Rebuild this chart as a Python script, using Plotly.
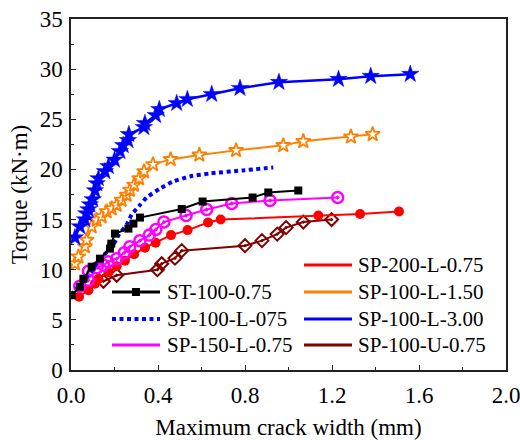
import plotly.graph_objects as go

# ---- data ----
x_st = [0.003, 0.041, 0.057, 0.095, 0.133, 0.179, 0.185, 0.202, 0.264, 0.287, 0.317, 0.509, 0.605, 0.835, 0.907, 1.045]
y_st = [7.45, 8.3, 9.1, 10.3, 11.1, 12.1, 12.6, 13.6, 14.1, 14.6, 15.2, 16.05, 16.8, 17.2, 17.7, 17.9]

x_sp100_075 = [0.0, 0.05, 0.10, 0.13, 0.168, 0.19, 0.22, 0.256, 0.279, 0.317, 0.348, 0.41, 0.47, 0.547, 0.639, 0.79, 0.93]
y_sp100_075 = [7.45, 8.7, 10.0, 11.1, 11.8, 12.3, 13.5, 14.5, 15.5, 16.45, 17.2, 18.1, 18.8, 19.3, 19.6, 19.9, 20.2]

x_sp150 = [0.04, 0.08, 0.08, 0.12, 0.15, 0.17, 0.21, 0.245, 0.27, 0.317, 0.36, 0.39, 0.427, 0.529, 0.624, 0.739, 0.915, 1.226]
y_sp150 = [8.35, 8.95, 9.85, 10.2, 10.45, 10.8, 11.1, 11.7, 12.3, 12.9, 13.45, 14.0, 14.75, 15.4, 16.0, 16.6, 16.9, 17.2]

x_sp200 = [0.037, 0.08, 0.11, 0.126, 0.172, 0.21, 0.248, 0.29, 0.34, 0.389, 0.46, 0.536, 0.63, 0.688, 1.137, 1.329, 1.508]
y_sp200 = [7.3, 7.95, 8.6, 9.1, 9.75, 10.35, 10.9, 11.55, 12.2, 12.7, 13.45, 13.95, 14.7, 15.0, 15.4, 15.55, 15.8]

x_sp100_150 = [0.018, 0.034, 0.064, 0.072, 0.095, 0.118, 0.141, 0.164, 0.187, 0.21, 0.233, 0.256, 0.271, 0.29, 0.313, 0.336, 0.377, 0.458, 0.59, 0.759, 0.976, 1.068, 1.287, 1.387]
y_sp100_150 = [10.6, 11.3, 12.3, 12.95, 14.3, 14.95, 15.3, 15.8, 16.1, 16.45, 16.95, 17.45, 17.95, 18.45, 19.1, 19.8, 20.5, 21.0, 21.45, 21.9, 22.4, 22.8, 23.25, 23.5]

x_sp100_300 = [0.018, 0.041, 0.064, 0.07, 0.08, 0.087, 0.1, 0.11, 0.118, 0.126, 0.156, 0.172, 0.2, 0.225, 0.24, 0.262, 0.266, 0.335, 0.34, 0.389, 0.406, 0.486, 0.535, 0.647, 0.777, 0.956, 1.23, 1.378, 1.56]
y_sp100_300 = [13.2, 14.3, 15.0, 15.6, 16.0, 16.5, 17.0, 17.9, 18.6, 19.1, 19.8, 20.3, 20.95, 21.8, 22.4, 22.9, 23.5, 24.2, 24.6, 25.4, 26.0, 26.6, 27.0, 27.5, 28.1, 28.7, 29.0, 29.3, 29.5]

x_sp100_u = [0.149, 0.21, 0.397, 0.417, 0.478, 0.509, 0.8, 0.878, 0.948, 0.989, 1.068, 1.198]
y_sp100_u = [8.85, 9.45, 10.0, 10.6, 11.15, 11.9, 12.4, 12.9, 13.55, 14.2, 14.75, 15.0]

x_ticks = [0.0, 0.4, 0.8, 1.2, 1.6, 2.0]
y_ticks = [0, 5, 10, 15, 20, 25, 30, 35]

legend_col1 = ["ST-100-0.75", "SP-100-L-075", "SP-150-L-0.75"]
legend_col2 = ["SP-200-L-0.75", "SP-100-L-1.50", "SP-100-L-3.00", "SP-100-U-0.75"]

FONT = "Liberation Serif, DejaVu Serif, serif"

BLACK = "#000000"
BLUE = "#0000FF"
MAGENTA = "#FF00FF"
RED = "#FF0000"
ORANGE = "#FF8000"
DARKRED = "#800000"
DOT = "4px,3.5px"

fig = go.Figure()

fig.add_trace(go.Scatter(x=x_sp100_u, y=y_sp100_u, mode="lines+markers", name="SP-100-U-0.75", showlegend=False,
                         line=dict(color=DARKRED, width=2),
                         marker=dict(symbol="diamond-open-dot", size=10, color=DARKRED, line=dict(width=2, color=DARKRED))))
fig.add_trace(go.Scatter(x=x_sp200, y=y_sp200, mode="lines+markers", name="SP-200-L-0.75", showlegend=False,
                         line=dict(color=RED, width=2),
                         marker=dict(symbol="circle", size=10, color=RED)))
fig.add_trace(go.Scatter(x=x_sp150, y=y_sp150, mode="lines+markers", name="SP-150-L-0.75", showlegend=False,
                         line=dict(color=MAGENTA, width=2),
                         marker=dict(symbol="circle-open-dot", size=11, color=MAGENTA, line=dict(width=2.5, color=MAGENTA))))
fig.add_trace(go.Scatter(x=x_sp100_075, y=y_sp100_075, mode="lines", name="SP-100-L-075", showlegend=False,
                         line=dict(color=BLUE, width=4, dash=DOT, shape="spline", smoothing=0.6)))
fig.add_trace(go.Scatter(x=x_st, y=y_st, mode="lines+markers", name="ST-100-0.75", showlegend=False,
                         line=dict(color=BLACK, width=2),
                         marker=dict(symbol="square", size=8, color=BLACK)))
fig.add_trace(go.Scatter(x=x_sp100_150, y=y_sp100_150, mode="lines+markers", name="SP-100-L-1.50", showlegend=False,
                         line=dict(color=ORANGE, width=2),
                         marker=dict(symbol="star", size=11, color="white", line=dict(width=1.8, color=ORANGE))))
fig.add_trace(go.Scatter(x=x_sp100_300, y=y_sp100_300, mode="lines+markers", name="SP-100-L-3.00", showlegend=False,
                         line=dict(color=BLUE, width=2.5),
                         marker=dict(symbol="star", size=13, color=BLUE, line=dict(width=0.5, color=BLUE))))

# ---- manual two-column legend (paper coordinates from pixel positions) ----
PL, PR, PT, PB = 71, 506, 19, 370
def px(xp):
    return (xp - PL) / (PR - PL)
def py(yp):
    return (PB - yp) / (PB - PT)

shapes = []
annotations = []
def legend_item(label, color, x0, x1, xt, yrow, dash="solid", width=3, square=False):
    shapes.append(dict(type="line", xref="paper", yref="paper", x0=px(x0), x1=px(x1), y0=py(yrow), y1=py(yrow),
                       line=dict(color=color, width=width, dash=dash)))
    if square:
        xm = (x0 + x1) / 2
        shapes.append(dict(type="rect", xref="paper", yref="paper", x0=px(xm - 4), x1=px(xm + 4),
                           y0=py(yrow + 4), y1=py(yrow - 4), fillcolor=color, line=dict(width=0)))
    annotations.append(dict(text=label, xref="paper", yref="paper", x=px(xt), y=py(yrow), xanchor="left",
                            yanchor="middle", showarrow=False, font=dict(family=FONT, size=21, color="black")))

col1_colors = [BLACK, BLUE, MAGENTA]
col1_rows = [292, 319, 345]
for i, lab in enumerate(legend_col1):
    legend_item(lab, col1_colors[i], 112, 160, 165, col1_rows[i],
                dash=DOT if i == 1 else "solid", width=4 if i == 1 else 3, square=(i == 0))

col2_colors = [RED, ORANGE, BLUE, DARKRED]
col2_rows = [265, 292, 319, 345]
for i, lab in enumerate(legend_col2):
    legend_item(lab, col2_colors[i], 304, 352, 356, col2_rows[i])

axis_common = dict(showline=True, linecolor="#222222", linewidth=1.5, mirror=True,
                   showgrid=False, zeroline=False, ticks="inside", ticklen=5, automargin=False,
                   tickwidth=1.3, tickcolor="#222222", ticklabeloverflow="allow",
                   tickfont=dict(family=FONT, size=23, color="black"))

fig.update_layout(
    width=520, height=440,
    margin=dict(l=PL, r=520 - PR, t=PT, b=440 - PB, autoexpand=False),
    paper_bgcolor="white", plot_bgcolor="white",
    font=dict(family=FONT, color="black"),
    showlegend=False,
    shapes=shapes,
    annotations=annotations,
    xaxis=dict(range=[0, 2.0], tickvals=x_ticks, ticktext=[f"{v:.1f}" for v in x_ticks],
               minor=dict(ticks="inside", ticklen=3, dtick=0.2, tickcolor="#222222", tickwidth=1.2),
               ticklabelstandoff=4,
               title=dict(text="Maximum crack width (mm)", font=dict(family=FONT, size=23), standoff=14),
               **axis_common),
    yaxis=dict(range=[0, 35], tickvals=y_ticks, ticktext=[str(v) for v in y_ticks],
               minor=dict(ticks="inside", ticklen=3, dtick=2.5, tickcolor="#222222", tickwidth=1.2),
               ticklabelstandoff=2,
               title=dict(text="Torque (kN·m)", font=dict(family=FONT, size=23), standoff=6),
               **axis_common),
)

fig.write_html("out.html")
